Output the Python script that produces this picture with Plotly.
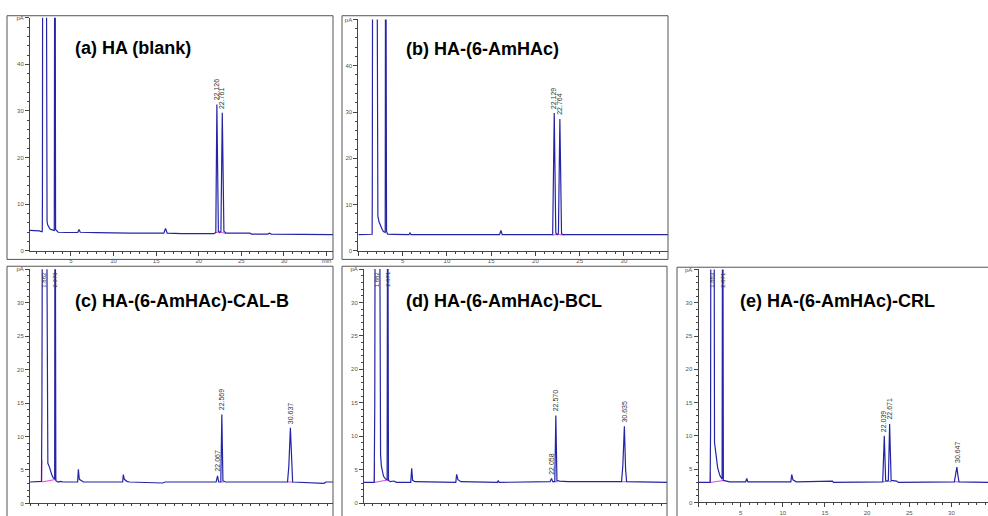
import plotly.graph_objects as go

W, H = 988, 516

# ---------------- data ----------------
# (a) HA (blank)
t_a = [0.2, 0.8, 1.3, 1.6, 1.64, 1.66, 1.68, 2.13, 2.15, 2.2, 2.27, 2.4, 2.55, 2.8, 3.05, 3.09, 3.16, 3.2, 3.5,
       4.5, 5.8, 5.95, 6.1, 8.0, 10.0, 12.0, 15.9, 16.1, 16.3, 18.0, 21.8, 22.0, 22.126, 22.3, 22.45, 22.6,
       22.761, 22.95, 23.2, 26.0, 26.2, 28.1, 28.3, 28.5, 35.75]
s_a = [4.4, 4.4, 4.3, 4.1, 4.2, 12.5, 60, 60, 8.5, 6.4, 5.6, 5.2, 4.7, 4.5, 4.4, 60, 60, 4.6, 4.0,
       3.95, 3.95, 4.6, 4.0, 3.9, 3.8, 3.8, 3.8, 4.8, 3.8, 3.7, 3.7, 4.0, 31.4, 4.2, 3.9, 4.2,
       29.6, 4.2, 3.8, 3.8, 3.6, 3.6, 3.8, 3.6, 3.5]
lab_a_t = [22.126, 22.761]
lab_a_s = [31.4, 29.6]
lab_a = ["22.126", "22.761"]
top_a_t, top_a = [], []
mg_a_t = [21.95, 22.45, 23.2]
mg_a_s = [3.9, 4.1, 3.7]

# (b) HA-(6-AmHAc)
t_b = [0, 1.5, 1.55, 1.57, 1.6, 2.12, 2.14, 2.2, 2.33, 2.5, 2.63, 2.82, 3.03, 3.06, 3.12, 3.18, 3.3, 4.0,
       5.7, 5.83, 5.95, 15.95, 16.1, 16.25, 21.95, 22.129, 22.3, 22.45, 22.6, 22.764, 22.95, 23.2, 35.0]
s_b = [3.5, 3.5, 3.6, 11.9, 60, 60, 9.8, 7.5, 6.3, 5.3, 4.9, 4.2, 4.0, 60, 60, 4.2, 3.6, 3.55,
       3.5, 3.9, 3.5, 3.5, 4.4, 3.5, 3.5, 29.8, 3.9, 3.5, 3.8, 28.5, 3.7, 3.5, 3.5]
lab_b_t = [22.129, 22.764]
lab_b_s = [29.8, 28.5]
lab_b = ["22.129", "22.764"]
top_b_t, top_b = [], []
mg_b_t = [22.0, 22.45, 23.2]
mg_b_s = [3.4, 3.6, 3.4]

# (c) HA-(6-AmHAc)-CAL-B
t_c = [0, 1.2, 1.35, 1.4, 1.45, 1.98, 2.0, 2.02, 2.1, 2.27, 2.4, 2.55, 2.75, 2.9, 2.93, 2.99, 3.04, 3.3,
       3.6, 3.9, 5.6, 5.69, 5.8, 6.0, 6.3, 10.9, 10.98, 11.1, 11.4, 11.7, 15.3, 15.6, 15.9, 21.9, 22.067,
       22.2, 22.45, 22.569, 22.7, 23.0, 30.3, 30.45, 30.637, 30.78, 30.9, 34.6, 34.8, 35.65]
s_c = [3.2, 3.2, 3.3, 14, 40, 40, 28, 7.2, 6.0, 5.5, 4.8, 4.3, 3.8, 3.7, 40, 40, 3.4, 3.2,
       3.3, 3.2, 3.2, 5.1, 3.6, 3.4, 3.2, 3.2, 4.3, 3.6, 3.3, 3.2, 3.0, 3.05, 3.2, 3.2, 4.1,
       3.2, 3.2, 13.3, 3.4, 3.2, 3.2, 5.5, 11.3, 5.0, 3.2, 3.0, 3.2, 3.2]
lab_c_t = [22.067, 22.569, 30.637]
lab_c_s = [4.1, 13.3, 11.3]
lab_c = ["22.067", "22.569", "30.637"]
top_c_t = [1.69, 2.96]
top_c = ["1.882", "2.979"]
mg_c_t = [1.38, 1.4, None, 1.4, 3.1, None, 22.45, 22.8, None, 30.3, 30.95]
mg_c_s = [3.2, 6.5, None, 3.2, 3.6, None, 3.2, 3.2, None, 3.2, 3.2]

# (d) HA-(6-AmHAc)-BCL
t_d = [0, 1.2, 1.27, 1.3, 1.86, 1.88, 1.95, 2.05, 2.3, 2.55, 2.72, 2.76, 2.82, 2.88, 3.1, 3.5, 3.8,
       5.5, 5.61, 5.72, 6.0, 10.8, 10.9, 11.05, 11.4, 15.7, 15.8, 15.9, 21.9, 22.058, 22.2, 22.45, 22.57,
       22.7, 23.0, 24.0, 30.3, 30.45, 30.635, 30.78, 30.9, 35.65]
s_d = [3.1, 3.1, 15.3, 40, 40, 12, 7.2, 5.5, 4.0, 3.6, 3.5, 40, 40, 3.4, 3.2, 3.3, 3.1,
       3.1, 5.2, 3.4, 3.2, 3.1, 4.3, 3.5, 3.2, 3.1, 3.4, 3.1, 3.2, 3.7, 3.2, 3.2, 13.1,
       3.4, 3.3, 3.2, 3.2, 5.5, 11.5, 5.0, 3.2, 3.1]
lab_d_t = [22.058, 22.57, 30.635]
lab_d_s = [3.7, 13.1, 11.5]
lab_d = ["22.058", "22.570", "30.635"]
top_d_t = [1.57, 2.79]
top_d = ["1.882", "2.871"]
mg_d_t = [1.22, 1.25, None, 1.25, 2.95, None, 22.45, 22.8, None, 30.3, 30.95]
mg_d_s = [3.1, 6.0, None, 3.1, 3.5, None, 3.2, 3.2, None, 3.2, 3.2]

# (e) HA-(6-AmHAc)-CRL
t_e = [0, 1.38, 1.43, 1.46, 1.86, 1.9, 2.04, 2.27, 2.55, 2.8, 2.84, 2.9, 2.95, 3.3, 3.7,
       5.6, 5.72, 5.85, 10.95, 11.06, 11.2, 11.6, 15.8, 15.9, 16.0, 21.85, 22.039, 22.2, 22.4, 22.52,
       22.671, 22.85, 23.5, 23.7, 30.35, 30.5, 30.647, 30.78, 30.9, 34.34]
s_e = [3.0, 3.0, 10.6, 40, 40, 9.0, 7.6, 5.2, 4.0, 3.5, 40, 40, 3.3, 3.2, 3.1,
       3.1, 3.6, 3.1, 3.1, 4.2, 3.4, 3.1, 3.1, 3.2, 3.0, 3.1, 10.0, 3.3, 3.2, 3.3,
       11.8, 3.3, 3.2, 3.0, 3.1, 4.0, 5.3, 4.0, 3.1, 3.0]
lab_e_t = [22.039, 22.671, 30.647]
lab_e_s = [10.0, 11.8, 5.3]
lab_e = ["22.039", "22.671", "30.647"]
top_e_t = [1.64, 2.94]
top_e = ["1.883", "2.871"]
mg_e_t = [1.4, 1.42, None, 1.42, 2.95, None, 21.9, 22.45, 22.9, None, 30.3, 30.95]
mg_e_s = [3.0, 4.5, None, 3.0, 3.3, None, 3.1, 3.2, 3.1, None, 3.1, 3.1]

titles = ["(a) HA (blank)", "(b) HA-(6-AmHAc)", "(c) HA-(6-AmHAc)-CAL-B",
          "(d) HA-(6-AmHAc)-BCL", "(e) HA-(6-AmHAc)-CRL"]
y_ticks_top = [0, 10, 20, 30, 40, 50]
y_ticks_bot = [0, 5, 10, 15, 20, 25, 30, 35]
x_ticks = [0, 5, 10, 15, 20, 25, 30, 35]

# ---------------- layout (pixel geometry) ----------------
panels = [
    dict(t=t_a, s=s_a, lt=lab_a_t, ls=lab_a_s, lab=lab_a, tt=top_a_t, tl=top_a, mt=mg_a_t, ms=mg_a_s,
         xd=(30, 333), yd=(253.3, 15), xr=[0.2, 35.75], yr=[0, 50], yt=y_ticks_top, ymin=2,
         xlab=["", "5", "10", "15", "20", "25", "30", "min"], frame=(7, 13, 333, 262), tpos=(73, 46)),
    dict(t=t_b, s=s_b, lt=lab_b_t, ls=lab_b_s, lab=lab_b, tt=top_b_t, tl=top_b, mt=mg_b_t, ms=mg_b_s,
         xd=(358.4, 668), yd=(253.3, 16.8), xr=[0, 34.98], yr=[0, 50], yt=y_ticks_top, ymin=2,
         xlab=["", "5", "10", "15", "20", "25", "30", ""], frame=(342, 13, 668, 262), tpos=(404, 47.5)),
    dict(t=t_c, s=s_c, lt=lab_c_t, ls=lab_c_s, lab=lab_c, tt=top_c_t, tl=top_c, mt=mg_c_t, ms=mg_c_s,
         xd=(30, 333), yd=(511.3, 272.1), xr=[0, 35.65], yr=[0, 35], yt=y_ticks_bot, ymin=1,
         xlab=None, frame=(7, 269, 333, 530), tpos=(73, 305)),
    dict(t=t_d, s=s_d, lt=lab_d_t, ls=lab_d_s, lab=lab_d, tt=top_d_t, tl=top_d, mt=mg_d_t, ms=mg_d_s,
         xd=(364, 667), yd=(511.0, 271.8), xr=[0, 35.65], yr=[0, 35], yt=y_ticks_bot, ymin=1,
         xlab=None, frame=(342, 269, 667, 530), tpos=(404, 305)),
    dict(t=t_e, s=s_e, lt=lab_e_t, ls=lab_e_s, lab=lab_e, tt=top_e_t, tl=top_e, mt=mg_e_t, ms=mg_e_s,
         xd=(698.5, 988), yd=(510.3, 272.3), xr=[0, 34.34], yr=[0, 35], yt=y_ticks_bot, ymin=1,
         xlab=["", "5", "10", "15", "20", "25", "30", ""], frame=(677, 270, 1000, 530), tpos=(738, 305)),
]

BLUE = "#2424a6"
MAG = "#e046d8"
AX = "#444444"
TXT = "#555555"

fig = go.Figure()
layout = dict(width=W, height=H, margin=dict(l=0, r=0, t=0, b=0),
              paper_bgcolor="white", plot_bgcolor="white", showlegend=False,
              shapes=[], annotations=[])

for i, p in enumerate(panels):
    n = "" if i == 0 else str(i + 1)
    xa, ya = "x" + n, "y" + n
    fig.add_trace(go.Scatter(x=p["mt"], y=p["ms"], mode="lines", xaxis=xa, yaxis=ya,
                             line=dict(color=MAG, width=1), connectgaps=False, hoverinfo="skip"))
    fig.add_trace(go.Scatter(x=p["t"], y=p["s"], mode="lines", xaxis=xa, yaxis=ya,
                             line=dict(color=BLUE, width=1.2)))
    layout["xaxis" + n] = dict(
        domain=[p["xd"][0] / W, min(p["xd"][1] / W, 1.0)], anchor=ya, range=p["xr"],
        showgrid=False, zeroline=False, showline=True, linecolor=AX, linewidth=1,
        ticks="outside", ticklen=4, tickcolor=AX, tickwidth=1,
        tickmode="array", tickvals=x_ticks,
        ticktext=p["xlab"] if p["xlab"] else [""] * len(x_ticks),
        showticklabels=p["xlab"] is not None,
        tickfont=dict(size=6, color=TXT, family="Liberation Sans"),
        minor=dict(tickmode="linear", tick0=0, dtick=1, ticks="outside", ticklen=2,
                   tickcolor=AX, showgrid=False),
        fixedrange=True)
    ytext = [str(v) for v in p["yt"][:-1]] + ["pA"]
    layout["yaxis" + n] = dict(
        domain=[1 - p["yd"][0] / H, 1 - p["yd"][1] / H], anchor=xa, range=p["yr"],
        showgrid=False, zeroline=False, showline=True, linecolor=AX, linewidth=1,
        ticks="outside", ticklen=4, tickcolor=AX, tickwidth=1,
        tickmode="array", tickvals=p["yt"], ticktext=ytext,
        tickfont=dict(size=6, color=TXT, family="Liberation Sans"),
        minor=dict(tickmode="linear", tick0=0, dtick=p["ymin"], ticks="outside", ticklen=2,
                   tickcolor=AX, showgrid=False),
        fixedrange=True)
    fx0, fy0, fx1, fy1 = p["frame"]
    layout["shapes"].append(dict(type="rect", xref="paper", yref="paper",
                                 x0=fx0 / W, x1=fx1 / W, y0=1 - fy1 / H, y1=1 - fy0 / H,
                                 line=dict(color="#555555", width=1), fillcolor="rgba(0,0,0,0)"))
    layout["annotations"].append(dict(text="<b>" + titles[i] + "</b>", xref="paper", yref="paper",
                                      x=p["tpos"][0] / W, y=1 - p["tpos"][1] / H,
                                      xanchor="left", yanchor="middle", showarrow=False,
                                      font=dict(size=18, color="black", family="Liberation Sans")))
    for tx, sy, lb in zip(p["lt"], p["ls"], p["lab"]):
        layout["annotations"].append(dict(text=lb, xref=xa, yref=ya, x=tx, y=sy, textangle=-90,
                                          xanchor="center", yanchor="bottom", yshift=2, showarrow=False,
                                          font=dict(size=7, color="#333333", family="Liberation Sans")))
    for tx, lb in zip(p["tt"], p["tl"]):
        layout["annotations"].append(dict(text=lb, xref=xa, yref=ya, x=tx, y=p["yr"][1], textangle=-90,
                                          xanchor="center", yanchor="top", showarrow=False,
                                          font=dict(size=6, color="#333333", family="Liberation Sans")))

fig.update_layout(**layout)
fig.write_html("out.html")
